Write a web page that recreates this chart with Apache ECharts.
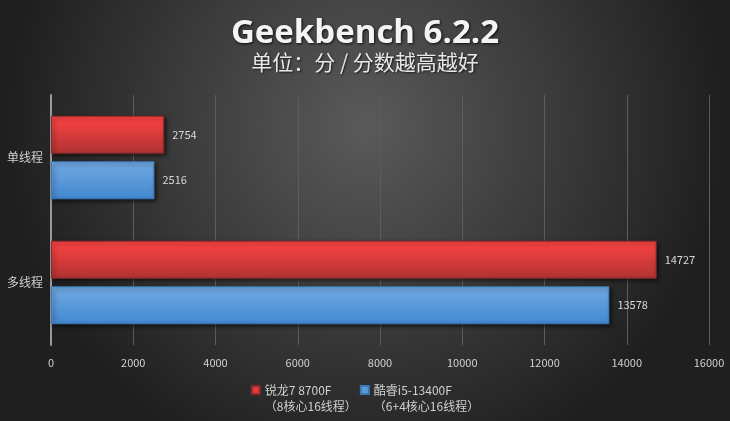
<!DOCTYPE html>
<html><head><meta charset="utf-8">
<script src="https://cdn.jsdelivr.net/npm/echarts@6/dist/echarts.min.js"></script>
<style>html,body{margin:0;padding:0;background:#333}#c{width:730px;height:421px}</style>
</head><body><div id="c"></div>
<script>
const categories = ['单线程', '多线程'];
const seriesNames = ['锐龙7 8700F\n（8核心16线程）', '酷睿i5-13400F\n（6+4核心16线程）'];
const ryzen = [2754, 14727];
const intel = [2516, 13578];
const xTicks = [0, 2000, 4000, 6000, 8000, 10000, 12000, 14000, 16000];

const chart = echarts.init(document.getElementById('c'), null, {renderer: 'canvas'});
const lg = (a, b) => ({type: 'linear', x: 0, y: 0, x2: 0, y2: 1, colorStops: [{offset: 0, color: a}, {offset: 1, color: b}]});
const font = '"Microsoft YaHei","Noto Sans CJK SC",sans-serif';
chart.setOption({
  backgroundColor: {type: 'radial', x: 0.5, y: 0.3, r: 0.85, colorStops: [{offset: 0, color: '#5a5a5a'}, {offset: 1, color: '#1f1f1f'}]},
  title: [
    {text: 'Geekbench 6.2.2', left: 'center', top: 12, textStyle: {color: '#f4f4f4', fontSize: 33, fontWeight: 'bold', fontFamily: '"Open Sans","Noto Sans",sans-serif', textShadowColor: 'rgba(0,0,0,0.8)', textShadowBlur: 3, textShadowOffsetX: 1, textShadowOffsetY: 1}},
    {text: '单位：分 / 分数越高越好', left: 'center', top: 47, textStyle: {color: '#e8e8e8', fontSize: 21, fontWeight: 'normal', fontFamily: font, textShadowColor: 'rgba(0,0,0,0.7)', textShadowBlur: 2, textShadowOffsetX: 1, textShadowOffsetY: 1}}
  ],
  legend: {
    bottom: 2, left: 'center', itemWidth: 8, itemHeight: 8, itemGap: 3, icon: 'rect',
    formatter: n => '\n' + n,
    textStyle: {color: '#d0d0d0', fontSize: 12, fontFamily: font, lineHeight: 16},
    data: [{name: seriesNames[0], itemStyle: {color: '#e03a3a'}}, {name: seriesNames[1], itemStyle: {color: '#5b9ad8'}}]
  },
  grid: {left: 51, right: 21, top: 95, bottom: 76, containLabel: false},
  xAxis: {
    type: 'value', min: 0, max: 16000, interval: 2000,
    axisLine: {show: false}, axisTick: {show: false},
    axisLabel: {color: '#d0d0d0', fontSize: 11, margin: 12, fontFamily: font, formatter: v => String(v)},
    splitLine: {lineStyle: {color: '#5c5c5c', width: 1}}
  },
  yAxis: {
    type: 'category', data: categories, inverse: true,
    axisLine: {lineStyle: {color: '#9a9a9a', width: 2}}, axisTick: {show: false},
    axisLabel: {color: '#d0d0d0', fontSize: 12, margin: 8, fontFamily: font}
  },
  series: [
    {name: seriesNames[0], type: 'bar', data: ryzen, barWidth: 38, barGap: '20%',
     itemStyle: {color: lg('#ff4444', '#b03232'), borderColor: '#8a2a2a', borderWidth: 1, shadowColor: 'rgba(0,0,0,0.6)', shadowBlur: 4, shadowOffsetX: 2, shadowOffsetY: 2},
     label: {show: true, position: 'right', distance: 8, color: '#d8d8d8', fontSize: 11, fontFamily: font}},
    {name: seriesNames[1], type: 'bar', data: intel, barWidth: 38,
     itemStyle: {color: lg('#72aae3', '#4288d0'), borderColor: '#3a78b8', borderWidth: 1, shadowColor: 'rgba(0,0,0,0.6)', shadowBlur: 4, shadowOffsetX: 2, shadowOffsetY: 2},
     label: {show: true, position: 'right', distance: 8, color: '#d8d8d8', fontSize: 11, fontFamily: font}}
  ]
});
</script></body></html>
